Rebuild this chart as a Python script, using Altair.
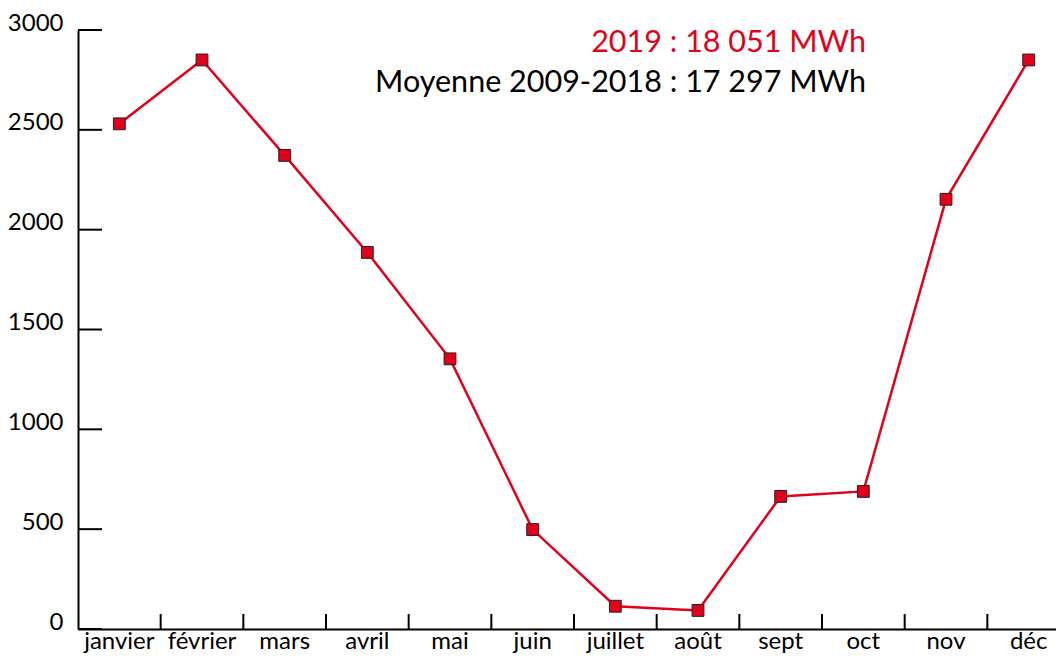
import altair as alt
import pandas as pd

months = ["janvier", "février", "mars", "avril", "mai", "juin",
          "juillet", "août", "sept", "oct", "nov", "déc"]
values = [2530, 2850, 2372, 1886, 1353, 498, 114, 93, 664, 689, 2152, 2850]
y_ticks = [0, 500, 1000, 1500, 2000, 2500, 3000]
title_2019 = "2019 : 18 051 MWh"
title_avg = "Moyenne 2009-2018 : 17 297 MWh"

RED = "#e2001a"
FONT = "Lato"
W, H = 978, 599
XR = 992

df = pd.DataFrame({"mois": months, "mwh": values})
yt = pd.DataFrame({"v": y_ticks})
xt = pd.DataFrame({"mois": months[1:]})

xscale = alt.Scale(type="band", domain=months, range=[0, XR],
                   paddingInner=0, paddingOuter=0)
yscale = alt.Scale(domain=[0, 3000], nice=False)

xenc = alt.X("mois:N", sort=months, scale=xscale, bandPosition=0.5,
             axis=alt.Axis(title=None, labelAngle=0, ticks=False,
                           domainColor="black", domainWidth=2,
                           labelFont=FONT, labelFontSize=24, labelColor="black",
                           labelAlign="center", labelBaseline="alphabetic",
                           labelPadding=19))
yenc = alt.Y("mwh:Q", scale=yscale,
             axis=alt.Axis(title=None, values=y_ticks, ticks=False, format="d",
                           domainColor="black", domainWidth=2,
                           labelFont=FONT, labelFontSize=24, labelColor="black",
                           labelAlign="right", labelPadding=15,
                           labelBaseline="alphabetic"))

line = alt.Chart(df).mark_line(color=RED, strokeWidth=2.5).encode(x=xenc, y=yenc)
pts = alt.Chart(df).mark_point(shape="square", filled=True, fill=RED,
                               stroke="#222", strokeWidth=1, size=140,
                               opacity=1).encode(x=xenc, y=yenc)

xticks = alt.Chart(xt).mark_rule(color="black", strokeWidth=2).encode(
    x=alt.X("mois:N", sort=months, scale=xscale, bandPosition=0),
    y=alt.value(H - 15), y2=alt.value(H))
yticks = alt.Chart(yt).mark_rule(color="black", strokeWidth=2).encode(
    y=alt.Y("v:Q", scale=yscale), x=alt.value(0), x2=alt.value(24))

t1 = alt.Chart(pd.DataFrame({"t": [title_2019]})).mark_text(
    align="right", baseline="alphabetic", font=FONT, fontSize=30.5, color=RED
).encode(text="t:N", x=alt.value(788), y=alt.value(22))
t2 = alt.Chart(pd.DataFrame({"t": [title_avg]})).mark_text(
    align="right", baseline="alphabetic", font=FONT, fontSize=30.5, color="black"
).encode(text="t:N", x=alt.value(788), y=alt.value(62))

chart = alt.layer(xticks, yticks, line, pts, t1, t2).properties(
    width=W, height=H,
    autosize=alt.AutoSizeParams(type="none"),
    padding={"left": 70, "top": 22, "right": 0, "bottom": 25},
).configure_view(stroke=None).configure_axis(grid=False)

chart.save("out.html", embed_options={"renderer": "svg", "actions": False})
